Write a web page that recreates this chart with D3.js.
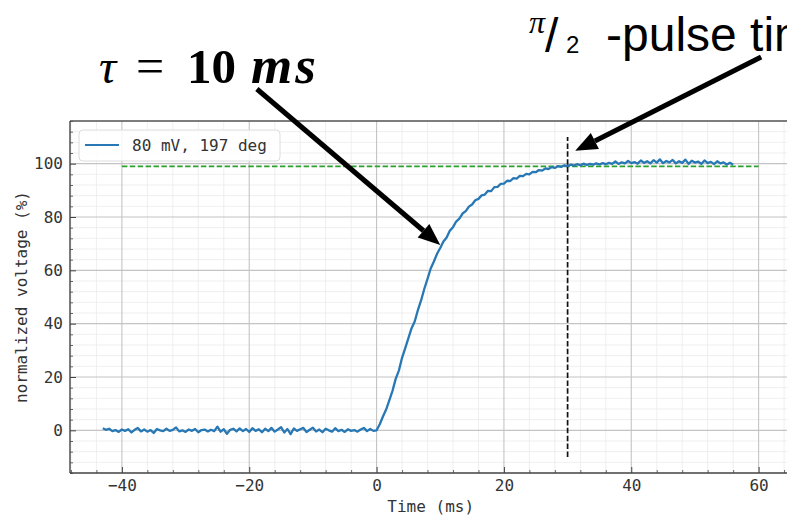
<!DOCTYPE html>
<html>
<head>
<meta charset="utf-8">
<script src="https://cdn.jsdelivr.net/npm/d3@7"></script>
<style>
  html, body { margin: 0; padding: 0; background: #fff; }
  svg { display: block; }
</style>
</head>
<body>
<svg id="chart" width="787" height="515"></svg>
<script>
// ---------------- data ----------------
const timeMs = [
  -43,-42.5,-42,-41.5,-41,-40.5,-40,-39.5,-39,-38.5,-38,-37.5,-37,-36.5,-36,-35.5,-35,-34.5,-34,-33.5,
  -33,-32.5,-32,-31.5,-31,-30.5,-30,-29.5,-29,-28.5,-28,-27.5,-27,-26.5,-26,-25.5,-25,-24.5,-24,-23.5,
  -23,-22.5,-22,-21.5,-21,-20.5,-20,-19.5,-19,-18.5,-18,-17.5,-17,-16.5,-16,-15.5,-15,-14.5,-14,-13.5,
  -13,-12.5,-12,-11.5,-11,-10.5,-10,-9.5,-9,-8.5,-8,-7.5,-7,-6.5,-6,-5.5,-5,-4.5,-4,-3.5,
  -3,-2.5,-2,-1.5,-1,-0.5,0,
  0.5,1,1.5,2,2.5,3,3.5,4,4.5,5,5.5,6,6.5,7,7.5,8,8.5,9,9.5,10,
  10.5,11,11.5,12,12.5,13,13.5,14,14.5,15,15.5,16,16.5,17,17.5,18,18.5,19,19.5,20,
  20.5,21,21.5,22,22.5,23,23.5,24,24.5,25,25.5,26,26.5,27,27.5,28,28.5,29,29.5,30,
  30.5,31,31.5,32,32.5,33,33.5,34,34.5,35,35.5,36,36.5,37,37.5,38,38.5,39,39.5,40,
  40.5,41,41.5,42,42.5,43,43.5,44,44.5,45,45.5,46,46.5,47,47.5,48,48.5,49,49.5,50,
  50.5,51,51.5,52,52.5,53,53.5,54,54.5,55,55.5,56
];
const voltagePct = [
  0.8,0.2,0.6,-0.3,0.1,-0.6,0.3,-0.2,0.4,-0.8,0.2,0.9,-0.4,0.3,-0.5,0.1,-1.0,0.5,0.0,-0.3,
  0.6,-0.2,0.2,1.1,-0.4,0.0,-0.6,0.3,-0.2,0.5,-0.7,0.1,0.3,-0.4,0.2,-0.3,1.4,-0.5,0.4,-1.3,
  0.2,0.6,-0.4,0.7,-0.3,0.5,-0.6,0.8,-0.2,0.4,-0.7,0.6,-0.3,0.9,-0.5,0.3,1.2,-0.8,0.5,-1.4,
  0.7,-0.2,0.4,0.9,-0.6,0.2,1.0,-0.4,0.3,-0.7,0.6,0.0,-0.5,0.8,-0.3,0.2,-0.6,0.4,-0.2,0.1,
  -0.5,0.3,0.9,-0.3,0.5,-0.2,0.0,
  2.3,5.2,7.8,11.2,14.8,19.3,22.4,27.2,30.8,34.6,38.3,40.9,45.2,48.8,53.1,56.8,60.7,63.3,66.2,68.4,
  70.8,72.3,74.8,76.2,78.3,79.4,81.3,82.2,83.9,84.7,86.3,86.8,88.1,88.4,89.8,89.7,91.2,91.3,92.4,92.5,
  93.6,93.5,94.6,94.4,95.4,95.3,96.2,96.0,96.9,96.8,97.6,97.4,98.2,98.0,98.7,98.4,99.1,98.8,99.4,99.1,
  99.6,99.3,99.8,99.4,100.0,99.5,99.9,99.6,100.1,99.7,100.2,99.8,100.3,99.9,100.8,99.9,100.5,100.1,101.0,100.2,
  100.6,100.0,101.2,100.3,100.9,100.1,101.3,100.4,101.6,100.2,101.0,100.5,101.4,100.1,100.9,100.3,101.5,99.9,101.1,100.4,
  100.8,99.9,101.2,100.2,100.7,99.8,100.9,100.1,100.5,99.7,100.3,99.6
];
const seriesLabel = "80 mV, 197 deg";
const xTicks = [-40, -20, 0, 20, 40, 60];
const yTicks = [0, 20, 40, 60, 80, 100];
const xDomain = [-48.15, 65.15];
const yDomain = [-16, 116];
const refLevel = 99;          // green dashed reference
const refRange = [-40, 60];
const pulseTime = 30;         // black dashed vertical marker
const pulseRange = [-10, 110];
const xTitle = "Time (ms)";
const yTitle = "normalized voltage (%)";
// annotation arrows in data coordinates: [tailX, tailY, tipX, tipY]
const tauArrow = [-18.8, 128, 10.0, 69.5];
const pulseArrow = [60.4, 140, 31.2, 104.8];

// ---------------- layout ----------------
const svg = d3.select("#chart");
const plot = { left: 70, top: 121, right: 791.4, bottom: 473 };
const x = d3.scaleLinear().domain(xDomain).range([plot.left, plot.right]);
const y = d3.scaleLinear().domain(yDomain).range([plot.bottom, plot.top]);

const mono = "'DejaVu Sans Mono', monospace";
const fs = 16;

// minor grid
const xMinor = d3.range(-48, 66, 4).filter(v => v >= xDomain[0] && v <= xDomain[1] && v % 20 !== 0);
const yMinor = d3.range(-16, 117, 4).filter(v => v >= yDomain[0] && v <= yDomain[1] && v % 20 !== 0);

const grid = svg.append("g");
grid.selectAll(".xmg").data(xMinor).join("line")
  .attr("x1", d => x(d)).attr("x2", d => x(d))
  .attr("y1", plot.top).attr("y2", plot.bottom)
  .attr("stroke", "#ebebeb").attr("stroke-width", 0.8);
grid.selectAll(".ymg").data(yMinor).join("line")
  .attr("y1", d => y(d)).attr("y2", d => y(d))
  .attr("x1", plot.left).attr("x2", plot.right)
  .attr("stroke", "#ebebeb").attr("stroke-width", 0.8);
// major grid
grid.selectAll(".xg").data(xTicks).join("line")
  .attr("x1", d => x(d)).attr("x2", d => x(d))
  .attr("y1", plot.top).attr("y2", plot.bottom)
  .attr("stroke", "#c4c4c4").attr("stroke-width", 1.1);
grid.selectAll(".yg").data(yTicks).join("line")
  .attr("y1", d => y(d)).attr("y2", d => y(d))
  .attr("x1", plot.left).attr("x2", plot.right)
  .attr("stroke", "#c4c4c4").attr("stroke-width", 1.1);

// reference lines
svg.append("line")
  .attr("x1", x(refRange[0])).attr("x2", x(refRange[1]))
  .attr("y1", y(refLevel)).attr("y2", y(refLevel))
  .attr("stroke", "#2ca02c").attr("stroke-width", 1.8)
  .attr("stroke-dasharray", "5.5,2.4");

// data line
const pts = timeMs.map((t, i) => [t, voltagePct[i]]);
svg.append("path")
  .datum(pts)
  .attr("fill", "none")
  .attr("stroke", "#2778b5")
  .attr("stroke-width", 2.3)
  .attr("stroke-linejoin", "round")
  .attr("d", d3.line().x(d => x(d[0])).y(d => y(d[1])));

svg.append("line")
  .attr("x1", x(pulseTime)).attr("x2", x(pulseTime))
  .attr("y1", y(pulseRange[0])).attr("y2", y(pulseRange[1]))
  .attr("stroke", "#111").attr("stroke-width", 1.7)
  .attr("stroke-dasharray", "5.5,2.4");

// axes
const xAxis = d3.axisBottom(x).tickValues(xTicks).tickSizeInner(-6).tickSizeOuter(0).tickPadding(7)
  .tickFormat(d => d < 0 ? "\u2212" + Math.abs(d) : d);
const gx = svg.append("g").attr("transform", `translate(0,${plot.bottom})`).call(xAxis);
gx.select(".domain").remove();
gx.selectAll(".tick line").attr("stroke", "#444").attr("stroke-width", 1);
gx.selectAll("text").attr("font-family", mono).attr("font-size", fs).attr("fill", "#333");

const xAxisMinor = d3.axisBottom(x).tickValues(xMinor).tickSizeInner(-3).tickSizeOuter(0).tickFormat("");
const gxm = svg.append("g").attr("transform", `translate(0,${plot.bottom})`).call(xAxisMinor);
gxm.select(".domain").remove();
gxm.selectAll(".tick line").attr("stroke", "#444").attr("stroke-width", 0.8);

const yAxis = d3.axisLeft(y).tickValues(yTicks).tickSizeInner(-6).tickSizeOuter(0).tickPadding(7);
const gy = svg.append("g").attr("transform", `translate(${plot.left},0)`).call(yAxis);
gy.select(".domain").remove();
gy.selectAll(".tick line").attr("stroke", "#444").attr("stroke-width", 1);
gy.selectAll("text").attr("font-family", mono).attr("font-size", fs).attr("fill", "#333");

const yAxisMinor = d3.axisLeft(y).tickValues(yMinor).tickSizeInner(-3).tickSizeOuter(0).tickFormat("");
const gym = svg.append("g").attr("transform", `translate(${plot.left},0)`).call(yAxisMinor);
gym.select(".domain").remove();
gym.selectAll(".tick line").attr("stroke", "#444").attr("stroke-width", 0.8);

// spines
svg.append("line").attr("x1", plot.left).attr("x2", plot.right).attr("y1", plot.bottom).attr("y2", plot.bottom)
  .attr("stroke", "#444").attr("stroke-width", 1.4);
svg.append("line").attr("x1", plot.left).attr("x2", plot.right).attr("y1", plot.top).attr("y2", plot.top)
  .attr("stroke", "#555").attr("stroke-width", 1.4);
svg.append("line").attr("x1", plot.left).attr("x2", plot.left).attr("y1", plot.top).attr("y2", plot.bottom)
  .attr("stroke", "#444").attr("stroke-width", 1.4);

// axis titles
svg.append("text").attr("x", (plot.left + plot.right) / 2).attr("y", 512)
  .attr("text-anchor", "middle").attr("font-family", mono).attr("font-size", fs).attr("fill", "#333")
  .text(xTitle);
svg.append("text").attr("transform", `translate(27,${(plot.top + plot.bottom) / 2}) rotate(-90)`)
  .attr("text-anchor", "middle").attr("font-family", mono).attr("font-size", fs).attr("fill", "#333")
  .text(yTitle);

// legend
const lg = svg.append("g");
lg.append("rect").attr("x", 79).attr("y", 130).attr("width", 201).attr("height", 31)
  .attr("rx", 4).attr("fill", "#fff").attr("fill-opacity", 0.85)
  .attr("stroke", "#dcdcdc").attr("stroke-width", 1);
lg.append("line").attr("x1", 85).attr("x2", 119).attr("y1", 145).attr("y2", 145)
  .attr("stroke", "#2778b5").attr("stroke-width", 2);
lg.append("text").attr("x", 132).attr("y", 151).attr("font-family", mono).attr("font-size", fs)
  .attr("fill", "#333").text(seriesLabel);

// annotation arrows
function arrow(a) {
  const x1 = x(a[0]), y1 = y(a[1]), x2 = x(a[2]), y2 = y(a[3]);
  const ang = Math.atan2(y2 - y1, x2 - x1);
  const headLen = 22, headW = 9;
  const bx = x2 - headLen * Math.cos(ang), by = y2 - headLen * Math.sin(ang);
  const g = svg.append("g");
  g.append("line").attr("x1", x1).attr("y1", y1).attr("x2", bx).attr("y2", by)
    .attr("stroke", "#000").attr("stroke-width", 5);
  const px = -Math.sin(ang), py = Math.cos(ang);
  g.append("polygon")
    .attr("points", [[x2, y2], [bx + px * headW, by + py * headW], [bx - px * headW, by - py * headW]]
      .map(p => p.join(",")).join(" "))
    .attr("fill", "#000");
}
arrow(tauArrow);
arrow(pulseArrow);

// annotation texts
const serif = "'Liberation Serif', 'DejaVu Serif', serif";
const tau = svg.append("text").attr("y", 83).attr("font-family", serif).attr("font-size", 48).attr("fill", "#000");
tau.append("tspan").attr("x", 99).attr("font-style", "italic").text("τ");
tau.append("tspan").attr("x", 136).attr("font-size", 50).text("=");
tau.append("tspan").attr("x", 187).attr("font-weight", "bold").attr("font-size", 49).text("10");
tau.append("tspan").attr("x", 251).attr("font-weight", "bold").attr("font-style", "italic")
  .attr("font-size", 53).attr("letter-spacing", 3).text("ms");

const sans = "'Liberation Sans', Arial, sans-serif";
const pulse = svg.append("text").attr("font-family", sans).attr("font-size", 48).attr("fill", "#000");
pulse.append("tspan").attr("x", 529).attr("y", 33).attr("font-family", serif).attr("font-style", "italic")
  .attr("font-size", 32).text("π");
pulse.append("tspan").attr("x", 545).attr("y", 52).attr("font-size", 48).text("/");
pulse.append("tspan").attr("x", 566).attr("y", 53).attr("font-size", 24).text("2");
pulse.append("tspan").attr("x", 606).attr("y", 51).attr("font-size", 48).text("-pulse time");
</script>
</body>
</html>
